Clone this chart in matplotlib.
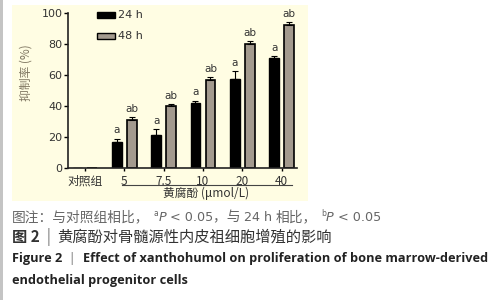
import matplotlib
matplotlib.use("Agg")
import matplotlib.pyplot as plt
from matplotlib.patches import Rectangle
from matplotlib.lines import Line2D
import numpy as np

categories = ["对照组", "5", "7.5", "10", "20", "40"]
h24 = [0, 17, 21, 42, 57.5, 71]
h24_err = [0, 2, 4, 1.5, 5, 1]
h48 = [0, 31, 40, 56.5, 80, 92]
h48_err = [0, 2, 1, 2, 2, 2]
h24_lab = ["", "a", "a", "a", "a", "a"]
h48_lab = ["", "ab", "ab", "ab", "ab", "ab"]
yticks = [0, 20, 40, 60, 80, 100]

CJK = ["Noto Sans CJK SC", "DejaVu Sans"]
plt.rcParams["font.family"] = CJK

W, H = 503, 300
fig = plt.figure(figsize=(W / 100, H / 100), dpi=100)
fig.patch.set_facecolor("white")

def fx(px):
    return px / W

def fy(py):
    return 1 - py / H

# left gray strip
fig.add_artist(Rectangle((0, 0), fx(3), 1, transform=fig.transFigure,
                         facecolor="#c4c4c4", edgecolor="none", zorder=0))
# yellow panel
fig.add_artist(Rectangle((fx(12), fy(201)), fx(308 - 12), (201 - 5) / H,
                         transform=fig.transFigure, facecolor="#fffde3",
                         edgecolor="none", zorder=0))

ax = fig.add_axes([fx(68), fy(168), fx(297 - 68), (168 - 13) / H])
ax.set_facecolor("none")
x = np.arange(len(categories))
off, bw = 0.19, 0.25
dark = "#333333"

ax.bar(x - off, h24, bw, color="black", edgecolor="black", linewidth=1.0, zorder=2)
ax.bar(x + off, h48, bw, color="#a39a8e", edgecolor="black", linewidth=1.2, zorder=2)
for i in range(1, len(x)):
    ax.errorbar(x[i] - off, h24[i], yerr=[[0], [h24_err[i]]], fmt="none",
                ecolor="black", elinewidth=0.8, capsize=2, capthick=0.8, zorder=3)
    ax.errorbar(x[i] + off, h48[i], yerr=[[0], [h48_err[i]]], fmt="none",
                ecolor="black", elinewidth=0.8, capsize=2, capthick=0.8, zorder=3)
    ax.text(x[i] - off, h24[i] + h24_err[i] + 2, h24_lab[i], ha="center",
            va="bottom", fontsize=7.5, color=dark, family="DejaVu Sans")
    ax.text(x[i] + off, h48[i] + h48_err[i] + 2, h48_lab[i], ha="center",
            va="bottom", fontsize=7.5, color=dark, family="DejaVu Sans")

ax.set_xlim(-0.43, 5.39)
ax.set_ylim(0, 100)
ax.set_yticks(yticks)
ax.set_yticklabels([str(v) for v in yticks], fontsize=8, color=dark, family="DejaVu Sans")
ax.set_xticks(x)
ax.set_xticklabels(categories, fontsize=8.5, color=dark)
ax.tick_params(axis="y", length=3, width=1, pad=1)
ax.tick_params(axis="x", length=2, width=1, pad=3)
for s in ["top", "right"]:
    ax.spines[s].set_visible(False)
for s in ["left", "bottom"]:
    ax.spines[s].set_linewidth(1.2)
    ax.spines[s].set_color("#222222")

# underline and group label
fig.add_artist(Line2D([fx(122), fx(292)], [fy(185), fy(185)], transform=fig.transFigure,
                      color="#444444", linewidth=0.8))
fig.text(fx(206), fy(193), "黄腐酚 (μmol/L)", ha="center", va="center",
         fontsize=8.5, color=dark)
fig.text(fx(26), fy(73), "抑制率 (%)", ha="center", va="center", rotation=90,
         fontsize=8.5, color="#7d745f")

# legend
for yy, fc, lab in [(15, "black", "24 h"), (36, "#a39a8e", "48 h")]:
    fig.add_artist(Rectangle((fx(97), fy(yy + 3)), fx(18), 6 / H, transform=fig.transFigure,
                             facecolor=fc, edgecolor="black", linewidth=1.0))
    fig.text(fx(118), fy(yy), lab, ha="left", va="center", fontsize=8,
             color=dark, family="DejaVu Sans")

# caption helper
fig.canvas.draw()
renderer = fig.canvas.get_renderer()

def seq(xpx, ypx, parts):
    cur = xpx
    for part in parts:
        txt, kw = part[0], part[1]
        dy = part[2] if len(part) > 2 else 0
        t = fig.text(fx(cur), fy(ypx - dy), txt, ha="left", va="baseline", **kw)
        bb = t.get_window_extent(renderer=renderer)
        cur += bb.width
    return cur

gray = "#666666"
c1 = dict(fontsize=9.9, color=gray, family=CJK)
ce = dict(fontsize=9.2, color=gray, family="DejaVu Sans")
cit = dict(ce, style="italic")
csup = dict(fontsize=5.5, color=gray, family="DejaVu Sans")
seq(12, 221, [("图注：与对照组相比，", c1), (" ", ce), ("a", csup, 5),
              ("P", cit), (" < 0.05", ce), ("，与 ", c1), ("24 h ", ce), ("相比，", c1),
              (" ", ce), ("b", csup, 5), ("P", cit), (" < 0.05", ce)])

c2 = dict(fontsize=11, color="#333333", family=CJK)
seq(12, 242, [("图 2", dict(c2, weight="bold")), ("  |  ", dict(c2, color="#777777", weight="light")),
              ("黄腐酚对骨髓源性内皮祖细胞增殖的影响", c2)])

eb = dict(fontsize=9.2, color="#222222", family="Open Sans", weight="bold")
seq(12, 262, [("Figure 2", eb), ("  |  ", dict(eb, weight="normal", color="#777777")),
              ("Effect of xanthohumol on proliferation of bone marrow-derived", eb)])
seq(12, 284, [("endothelial progenitor cells", eb)])

fig.savefig("out.png", dpi=100)
